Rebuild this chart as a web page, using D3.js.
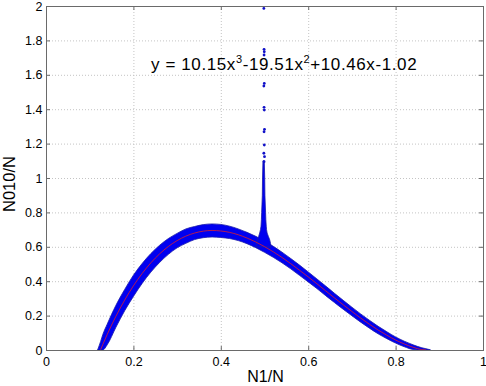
<!DOCTYPE html>
<html>
<head>
<meta charset="utf-8">
<script src="https://cdn.jsdelivr.net/npm/d3@7"></script>
<style>
  body { margin: 0; background: #fff; }
  svg text { font-family: "Liberation Sans", Arial, sans-serif; fill: #000; }
</style>
</head>
<body>
<div id="chart"></div>
<script>
// tick labels
var xTicks = [0, 0.2, 0.4, 0.6, 0.8, 1];
var yTicks = [0, 0.2, 0.4, 0.6, 0.8, 1, 1.2, 1.4, 1.6, 1.8, 2];

// scatter band (upper / lower edge of the blue cloud)
var bandX = [0.118, 0.125, 0.13, 0.14, 0.16, 0.18, 0.20, 0.22, 0.24, 0.26, 0.28, 0.30, 0.32, 0.34, 0.36, 0.38, 0.40, 0.42, 0.44, 0.46, 0.48, 0.50, 0.52, 0.54, 0.56, 0.58, 0.60, 0.62, 0.64, 0.66, 0.68, 0.70, 0.72, 0.74, 0.76, 0.78, 0.80, 0.82, 0.84, 0.86, 0.875, 0.88];
var bandUpper = [0, 0.05, 0.090, 0.150, 0.260, 0.352, 0.435, 0.503, 0.561, 0.609, 0.648, 0.678, 0.704, 0.718, 0.729, 0.733, 0.730, 0.720, 0.704, 0.684, 0.661, 0.634, 0.603, 0.569, 0.532, 0.494, 0.454, 0.413, 0.372, 0.330, 0.289, 0.249, 0.210, 0.173, 0.138, 0.106, 0.076, 0.051, 0.030, 0.013, 0.004, 0];
var bandLower = [0, 0, 0, 0.030, 0.132, 0.228, 0.311, 0.387, 0.453, 0.509, 0.556, 0.594, 0.620, 0.642, 0.653, 0.657, 0.654, 0.648, 0.636, 0.618, 0.595, 0.568, 0.539, 0.507, 0.472, 0.434, 0.396, 0.357, 0.316, 0.276, 0.237, 0.199, 0.162, 0.127, 0.094, 0.066, 0.040, 0.019, 0.003, 0, 0, 0];

// dense part of the spike near N1/N = 0.5
var spikeY = [0.60, 0.64, 0.68, 0.72, 0.80, 0.90, 1.00, 1.10];
var spikeLeft = [0.480, 0.484, 0.489, 0.492, 0.4935, 0.495, 0.4955, 0.4965];
var spikeRight = [0.515, 0.512, 0.506, 0.504, 0.5025, 0.501, 0.5005, 0.4995];

// sparse dots at the top of the spike
var dotX = [0.4985, 0.4990, 0.4995, 0.4990, 0.4995, 0.4985, 0.4990, 0.4995, 0.5000, 0.4990, 0.4995, 0.4985, 0.5000, 0.4990];
var dotY = [1.986, 1.748, 1.734, 1.715, 1.550, 1.535, 1.411, 1.395, 1.283, 1.269, 1.192, 1.144, 1.124, 1.095];

// fitted cubic
var fitX = [0.125, 0.13, 0.14, 0.16, 0.18, 0.20, 0.22, 0.24, 0.26, 0.28, 0.30, 0.32, 0.34, 0.36, 0.38, 0.40, 0.42, 0.44, 0.46, 0.48, 0.50, 0.52, 0.54, 0.56, 0.58, 0.60, 0.62, 0.64, 0.66, 0.68, 0.70, 0.72, 0.74, 0.76, 0.78, 0.80, 0.82, 0.84, 0.86, 0.87];
var fitY = [0.002, 0.032, 0.090, 0.196, 0.290, 0.373, 0.445, 0.507, 0.559, 0.602, 0.636, 0.662, 0.680, 0.691, 0.695, 0.692, 0.684, 0.670, 0.651, 0.628, 0.601, 0.571, 0.538, 0.502, 0.464, 0.425, 0.385, 0.344, 0.303, 0.263, 0.224, 0.186, 0.150, 0.116, 0.086, 0.058, 0.035, 0.016, 0.002, 0];

var W = 486, H = 386;
var margin = {top: 6, right: 3, bottom: 36, left: 46};
var width = W - margin.left - margin.right,
    height = H - margin.top - margin.bottom;

var svg = d3.select("#chart").append("svg")
    .attr("width", W).attr("height", H);
var g = svg.append("g")
    .attr("transform", "translate(" + margin.left + "," + margin.top + ")");

var x = d3.scaleLinear().domain([0, 1]).range([0, width]);
var y = d3.scaleLinear().domain([0, 2]).range([height, 0]);

// grid
g.append("g").selectAll("line").data(xTicks.slice(1, -1)).enter().append("line")
    .attr("x1", d => x(d) + 0.5).attr("x2", d => x(d) + 0.5)
    .attr("y1", 0).attr("y2", height)
    .attr("stroke", "#c4c4c4").attr("stroke-dasharray", "1,2");
g.append("g").selectAll("line").data(yTicks.slice(1, -1)).enter().append("line")
    .attr("y1", d => y(d) + 0.5).attr("y2", d => y(d) + 0.5)
    .attr("x1", 0).attr("x2", width)
    .attr("stroke", "#c4c4c4").attr("stroke-dasharray", "1,2");

// blue band
var band = bandX.map((d, i) => ({x: d, hi: bandUpper[i], lo: bandLower[i]}));
g.append("path").datum(band)
    .attr("d", d3.area().x(d => x(d.x)).y0(d => y(d.lo)).y1(d => y(d.hi)).curve(d3.curveMonotoneX))
    .attr("fill", "#0000f0").attr("stroke", "#1a1aa8").attr("stroke-width", 0.8);

// spike
var spike = spikeY.map((d, i) => ({y: d, l: spikeLeft[i], r: spikeRight[i]}));
g.append("path").datum(spike)
    .attr("d", d3.area().y(d => y(d.y)).x0(d => x(d.l)).x1(d => x(d.r)).curve(d3.curveMonotoneY))
    .attr("fill", "#0000f0").attr("stroke", "#1a1aa8").attr("stroke-width", 0.8);

g.append("g").selectAll("circle").data(dotY).enter().append("circle")
    .attr("cx", (d, i) => x(dotX[i]))
    .attr("cy", d => y(d))
    .attr("r", 1.4)
    .attr("fill", "#1010c8");

// red fit line
g.append("path").datum(fitX.map((d, i) => [d, fitY[i]]))
    .attr("d", d3.line().x(d => x(d[0])).y(d => y(d[1])).curve(d3.curveMonotoneX))
    .attr("fill", "none").attr("stroke", "#e0202a").attr("stroke-width", 0.8);

// axes box
var axisColor = "#6a6a6a";
g.append("rect").attr("x", 0.5).attr("y", 0.5).attr("width", width).attr("height", height)
    .attr("fill", "none").attr("stroke", axisColor);

var xAxis = g.append("g").attr("transform", "translate(0," + height + ")")
    .call(d3.axisBottom(x).tickValues(xTicks).tickSize(-4).tickPadding(7).tickFormat(d3.format("~g")));
var xTop = g.append("g")
    .call(d3.axisTop(x).tickValues(xTicks).tickSize(-4).tickFormat(""));
var yAxis = g.append("g")
    .call(d3.axisLeft(y).tickValues(yTicks).tickSize(-4).tickPadding(3.5).tickFormat(d3.format("~g")));
var yRight = g.append("g").attr("transform", "translate(" + width + ",0)")
    .call(d3.axisRight(y).tickValues(yTicks).tickSize(-4).tickFormat(""));

[xAxis, xTop, yAxis, yRight].forEach(function(a) {
    a.select(".domain").remove();
    a.selectAll("line").attr("stroke", axisColor);
    a.selectAll("text").style("font-size", "12.5px").attr("fill", "#000");
});

// titles
svg.append("text")
    .attr("x", margin.left + width / 2 + 1).attr("y", 382)
    .attr("text-anchor", "middle").style("font-size", "16px")
    .text("N1/N");
svg.append("text")
    .attr("transform", "translate(15," + (margin.top + height / 2 + 6) + ") rotate(-90)")
    .attr("text-anchor", "middle").style("font-size", "16.5px")
    .text("N010/N");

// fit equation
var eq = svg.append("text").attr("x", 151).attr("y", 70)
    .style("font-size", "17px").style("letter-spacing", "0.6px");
eq.append("tspan").text("y = 10.15x");
eq.append("tspan").attr("dy", -7).style("font-size", "11px").text("3");
eq.append("tspan").attr("dy", 7).text("-19.51x");
eq.append("tspan").attr("dy", -7).style("font-size", "11px").text("2");
eq.append("tspan").attr("dy", 7).text("+10.46x-1.02");
</script>
</body>
</html>
